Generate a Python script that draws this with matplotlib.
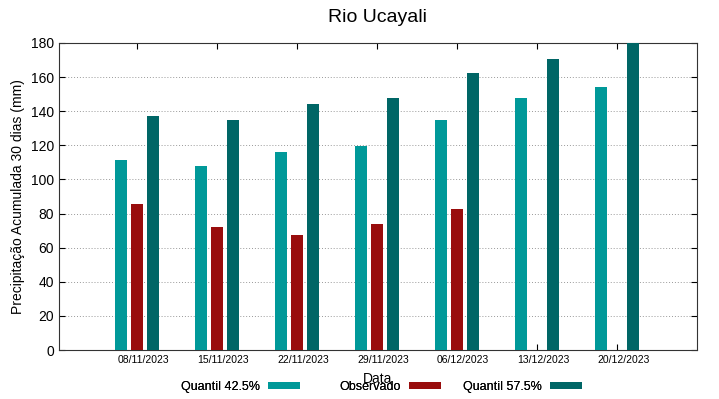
import numpy as np
import matplotlib.pyplot as plt

plt.rcParams['font.family'] = ['Liberation Sans', 'DejaVu Sans']

datas = ['08/11/2023', '15/11/2023', '22/11/2023', '29/11/2023',
         '06/12/2023', '13/12/2023', '20/12/2023']
q425 = [111.6, 107.9, 116.3, 119.6, 134.9, 147.6, 154.4]
obs = [85.6, 71.9, 67.6, 73.7, 82.5, np.nan, np.nan]
q575 = [137.4, 135.0, 144.2, 147.6, 162.6, 170.4, 185.0]

fig = plt.figure(figsize=(7.19, 3.99), dpi=100)
ax = fig.add_axes([0.082, 0.1228, 0.887, 0.7695])

x = np.arange(len(datas))
w = 0.155
b1 = ax.bar(x - 0.2, q425, w, color='#009999', label='Quantil 42.5%', zorder=3)
b2 = ax.bar(x, obs, w, color='#990d0d', label='Observado', zorder=3)
b3 = ax.bar(x + 0.2, q575, w, color='#006666', label='Quantil 57.5%', zorder=3)

ax.set_xlim(-0.975, 7.0)
ax.set_ylim(0, 180)
ax.set_yticks(np.arange(0, 181, 20))
# tick marks at group centres, labels a bit to the right (gnuplot style)
ax.set_xticks(x, labels=[''] * len(datas))
ax.set_xticks(x + 0.08, labels=datas, minor=True)
ax.tick_params(axis='x', which='minor', length=0, labelsize=7.5)
ax.tick_params(axis='y', labelsize=10)
ax.tick_params(which='major', direction='in', top=True, right=True, length=4, width=0.8)
ax.yaxis.grid(True, linestyle=(0, (1, 2)), color='#999999', linewidth=0.7, zorder=0)
for s in ax.spines.values():
    s.set_linewidth(0.8)
    s.set_color('#333333')

ax.set_title('Rio Ucayali', fontsize=14, pad=15)
ax.set_ylabel('Precipitação Acumulada 30 dias (mm)', fontsize=10)
ax.set_xlabel('Data', fontsize=10, labelpad=5)

# one legend per column, right-aligned like gnuplot's key
ends = [300, 441, 582]
for h, xe in zip([b1, b2, b3], ends):
    lg = fig.legend([h], [h.get_label()], loc='center right',
                    bbox_to_anchor=(xe / 719, 1 - 387 / 399), frameon=False,
                    markerfirst=False, fontsize=9, handlelength=2.6,
                    handleheight=0.4, handletextpad=0.6, borderpad=0,
                    borderaxespad=0)
    fig.add_artist(lg)

fig.savefig('out.png', dpi=100)
